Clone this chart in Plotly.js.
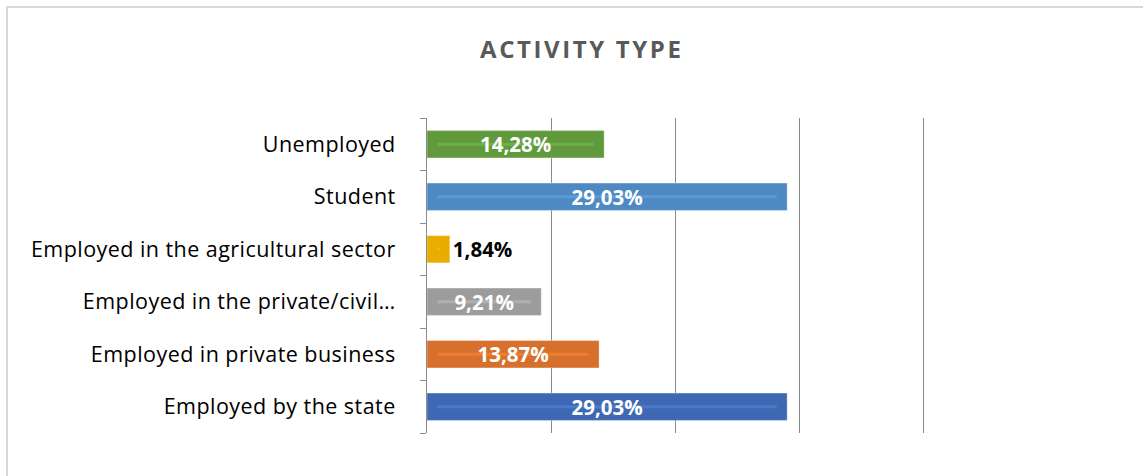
<!DOCTYPE html>
<html>
<head>
<meta charset="utf-8">
<script src="https://cdn.plot.ly/plotly-3.0.1.min.js"></script>
<style>
  html, body { margin: 0; padding: 0; background: #ffffff; overflow: hidden; }
  #frame { position: absolute; left: 6px; top: 6px; width: 1200px; height: 520px; border: 2px solid #d9d9d9; box-sizing: border-box; }
  #chart { position: absolute; left: 0; top: 0; width: 1143px; height: 476px; }
  #chart .gtitle { letter-spacing: 2.6px; }
  #chart .ytick text { letter-spacing: 0.45px; }
</style>
</head>
<body>
<div id="frame"></div>
<div id="chart"></div>
<script>
// Data (bottom to top)
const categories = [
  "Employed by the state",
  "Employed in private business",
  "Employed in the private/civil…",
  "Employed in the agricultural sector",
  "Student",
  "Unemployed"
];
const values = [29.03, 13.87, 9.21, 1.84, 29.03, 14.28];
const labels = ["29,03%", "13,87%", "9,21%", "1,84%", "29,03%", "14,28%"];

const barColors = ["#3f68b2", "#d6702c", "#9c9c9c", "#e8ad00", "#4f89c4", "#619a3c"];
const stripeColors = ["#4a7acb", "#ec7d32", "#b0b0b0", "#ffc000", "#5b9bd5", "#72ae47"];
const labelPos = ["inside", "inside", "inside", "outside", "inside", "inside"];

const inset = 0.85;
const bars = {
  type: "bar",
  orientation: "h",
  y: categories,
  x: values,
  width: 0.52,
  marker: { color: barColors, line: { color: "rgba(255,255,255,0.35)", width: 1 } },
  hoverinfo: "skip",
  showlegend: false
};
const stripes = {
  type: "bar",
  orientation: "h",
  y: categories,
  base: values.map(() => inset),
  x: values.map(v => Math.max(v - 2 * inset, 0.05)),
  width: 0.06,
  marker: { color: stripeColors },
  hoverinfo: "skip",
  showlegend: false
};
const textTrace = {
  type: "bar",
  orientation: "h",
  y: categories,
  x: values,
  width: 0.52,
  marker: { color: "rgba(0,0,0,0)" },
  text: labels,
  textposition: labelPos,
  insidetextanchor: "middle",
  insidetextfont: { family: "Open Sans, sans-serif", size: 20.5, color: "#ffffff", weight: "bold" },
  outsidetextfont: { family: "Open Sans, sans-serif", size: 20.5, color: "#000000", weight: "bold" },
  textangle: 0,
  cliponaxis: false,
  constraintext: "none",
  hoverinfo: "skip",
  showlegend: false
};

const layout = {
  width: 1143,
  height: 476,
  paper_bgcolor: "rgba(0,0,0,0)",
  plot_bgcolor: "rgba(0,0,0,0)",
  barmode: "overlay",
  margin: { l: 427, r: 216, t: 118, b: 43 },
  title: {
    text: "<b>ACTIVITY TYPE</b>",
    font: { family: "Open Sans, sans-serif", size: 24, color: "#595959" },
    x: 0.509, xref: "container", xanchor: "center",
    y: 0.895, yref: "container", yanchor: "middle"
  },
  xaxis: {
    range: [0, 40.3],
    dtick: 10,
    tick0: 0,
    showgrid: true,
    gridcolor: "#8a8a8a",
    gridwidth: 1,
    zeroline: false,
    showticklabels: false,
    showline: false,
    ticks: "",
    fixedrange: true
  },
  yaxis: {
    type: "category",
    categoryorder: "array",
    categoryarray: categories,
    showline: true,
    linecolor: "#8a8a8a",
    linewidth: 1,
    ticks: "outside",
    tickson: "boundaries",
    ticklen: 6,
    tickcolor: "#8a8a8a",
    ticklabelstandoff: 26,
    tickfont: { family: "Open Sans, sans-serif", size: 21.5, color: "#000000" },
    showgrid: false,
    zeroline: false,
    fixedrange: true
  }
};

Plotly.newPlot("chart", [bars, stripes, textTrace], layout, { displayModeBar: false, staticPlot: true });
</script>
</body>
</html>
